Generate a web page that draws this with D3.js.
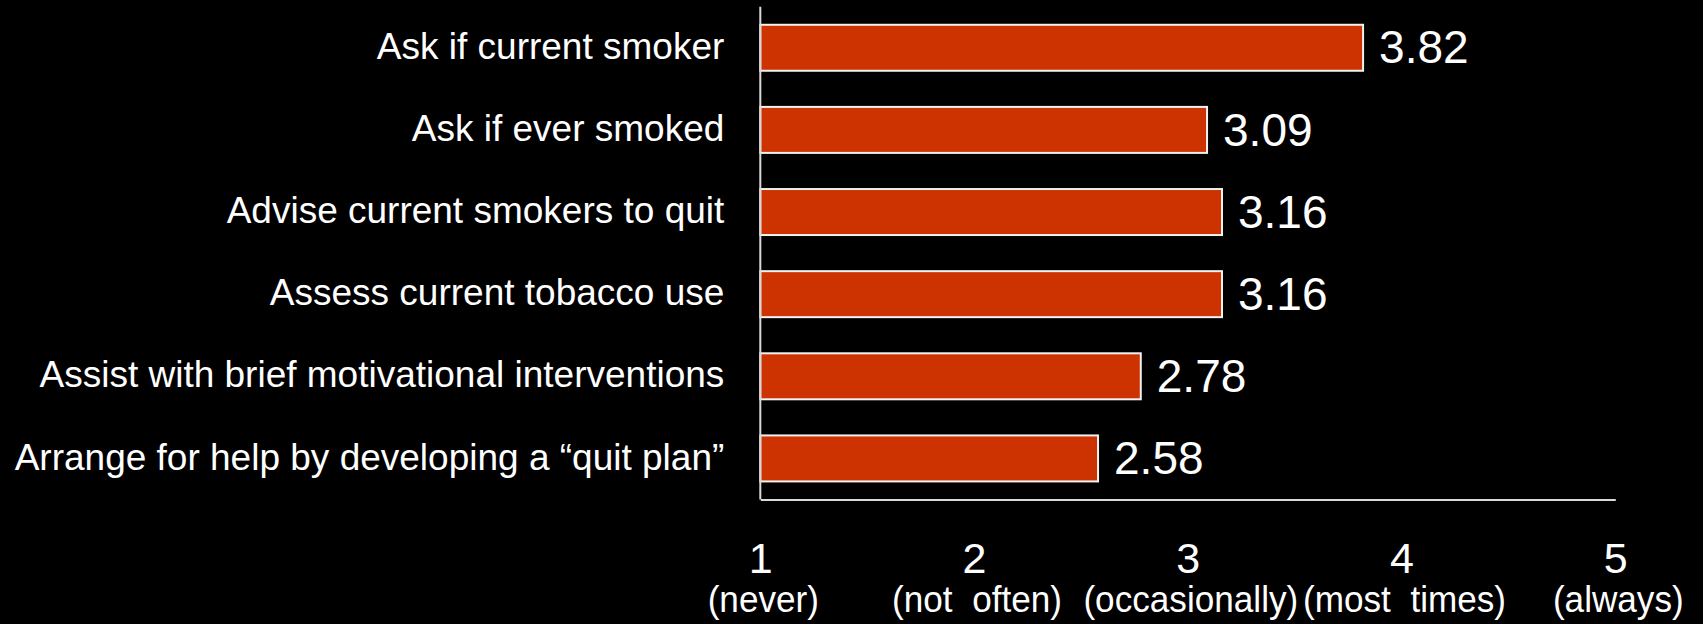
<!DOCTYPE html>
<html>
<head>
<meta charset="utf-8">
<script src="https://cdn.jsdelivr.net/npm/d3@7"></script>
<style>
  html, body { margin: 0; padding: 0; background: #000; }
  svg { display: block; }
  text { font-family: "Liberation Sans", Arial, sans-serif; fill: #fff; white-space: pre; }
</style>
</head>
<body>
<svg id="chart" width="1703" height="624"></svg>
<script>
// Practice items, listed top to bottom
const categories = [
  "Ask if current smoker",
  "Ask if ever smoked",
  "Advise current smokers to quit",
  "Assess current tobacco use",
  "Assist with brief motivational interventions",
  "Arrange for help by developing a \u201cquit plan\u201d"
];
// Mean frequency score for each item (1–5 scale)
const meanScores = [3.82, 3.09, 3.16, 3.16, 2.78, 2.58];
// Rating scale ticks and their meanings
const scaleTicks = [1, 2, 3, 4, 5];
const scaleMeanings = ["(never)", "(not  often)", "(occasionally)", "(most  times)", "(always)"];

const W = 1703, H = 624;
const margin = { top: 6.7, left: 760.3, right: 1703 - 1615.3, bottom: 624 - 499.5 };
const innerW = W - margin.left - margin.right;
const innerH = H - margin.top - margin.bottom;

const svg = d3.select("#chart");
const g = svg.append("g").attr("transform", `translate(${margin.left},${margin.top})`);

const x = d3.scaleLinear().domain([1, 5]).range([0, innerW]);
const y = d3.scaleBand().domain(categories).range([0, innerH])
  .paddingInner(0.44).paddingOuter(0.22);

const rows = categories.map((c, i) => ({ cat: c, val: meanScores[i] }));

// Bars start at the scale origin (1 = never)
g.selectAll("rect.bar").data(rows).join("rect")
  .attr("class", "bar")
  .attr("x", x(1))
  .attr("y", d => y(d.cat))
  .attr("width", d => x(d.val) - x(1))
  .attr("height", y.bandwidth())
  .attr("fill", "#cc3300")
  .attr("stroke", "#f2f2f2")
  .attr("stroke-width", 2);

// Value labels to the right of each bar
g.selectAll("text.val").data(rows).join("text")
  .attr("class", "val")
  .attr("x", d => x(d.val) + 16)
  .attr("y", d => y(d.cat) + y.bandwidth() / 2)
  .attr("dy", "0.34em")
  .attr("font-size", 46)
  .text(d => d3.format(".2f")(d.val));

// Category labels on the left
g.selectAll("text.cat").data(rows).join("text")
  .attr("class", "cat")
  .attr("x", -36)
  .attr("y", d => y(d.cat) + y.bandwidth() / 2)
  .attr("dy", "0.3em")
  .attr("text-anchor", "end")
  .attr("font-size", 37)
  .text(d => d.cat);

// Vertical axis line
g.append("line")
  .attr("x1", 0).attr("x2", 0)
  .attr("y1", 0).attr("y2", innerH)
  .attr("stroke", "#d9d9d9").attr("stroke-width", 2);

// Bottom axis with numeric ticks
const xAxis = g.append("g")
  .attr("transform", `translate(0,${innerH})`)
  .call(d3.axisBottom(x).tickValues(scaleTicks).tickSize(0).tickFormat(d3.format("d")));
xAxis.select(".domain").attr("stroke", "#d9d9d9").attr("stroke-width", 2);
xAxis.selectAll(".tick text")
  .attr("fill", "#fff")
  .attr("font-size", 43)
  .attr("font-family", "Liberation Sans, Arial, sans-serif")
  .attr("y", 573.2 - 499.5)
  .attr("dy", 0);

// Scale meanings under each tick number (slightly condensed)
xAxis.selectAll("text.meaning").data(scaleTicks).join("text")
  .attr("class", "meaning")
  .attr("transform", d => `translate(${x(d) + 3},${611.7 - 499.5}) scale(0.95,1)`)
  .attr("text-anchor", "middle")
  .attr("font-size", 37)
  .text((d, i) => scaleMeanings[i]);
</script>
</body>
</html>
